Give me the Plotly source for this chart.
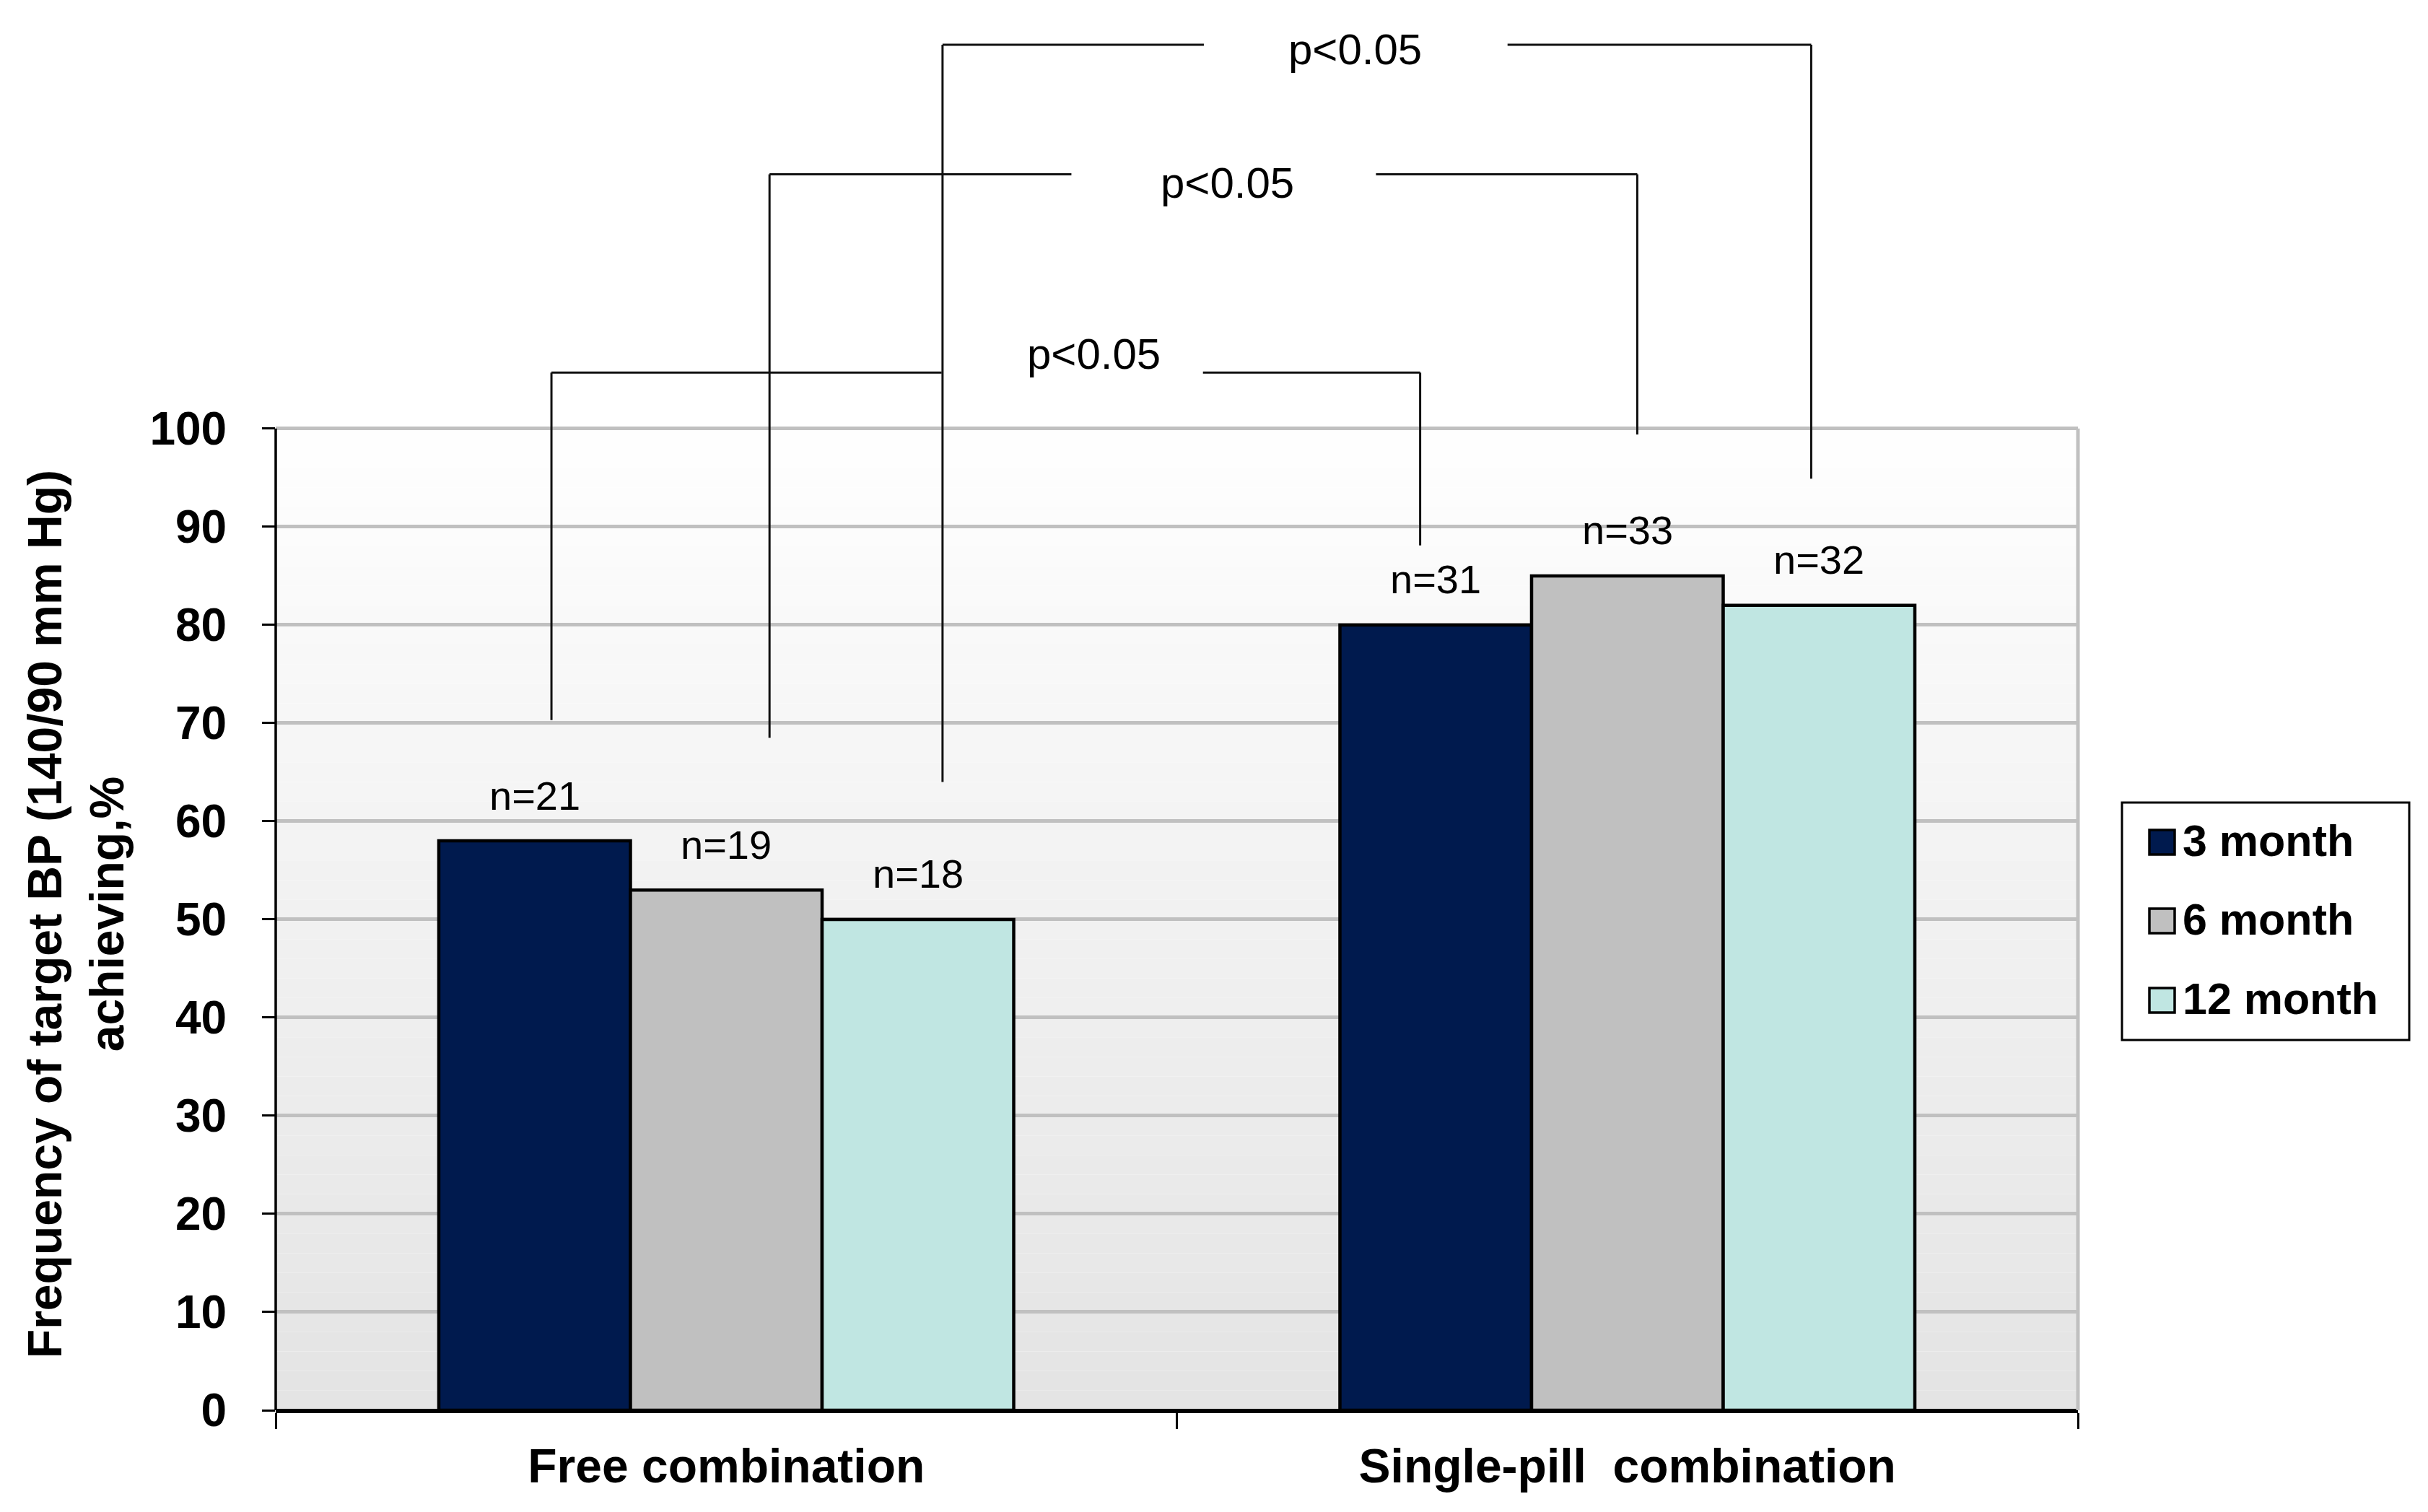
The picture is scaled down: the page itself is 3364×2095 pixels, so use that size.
import plotly.graph_objects as go

# data
categories = ['Free combination', 'Single-pill  combination']
periods = ['3 month', '6 month', '12 month']
values_3m = [58, 80]
values_6m = [53, 85]
values_12m = [50, 82]
n_3m = ['n=21', 'n=31']
n_6m = ['n=19', 'n=33']
n_12m = ['n=18', 'n=32']
y_ticks = [0, 10, 20, 30, 40, 50, 60, 70, 80, 90, 100]

colors = ['#001a4e', '#c0c0c0', '#c0e6e2']
font = 'Liberation Sans, Arial, sans-serif'

# brackets with the p-values (x in category units, y in %)
brackets = [
    dict(x_left=-0.194, x_right=0.770, y_top=105.7, y_left=70.3, y_right=88.1,
         gap=(0.239, 0.529), text_x=0.408, text_y=107.6),
    dict(x_left=0.048, x_right=1.011, y_top=125.9, y_left=68.5, y_right=99.4,
         gap=(0.383, 0.721), text_x=0.556, text_y=125.0),
    dict(x_left=0.240, x_right=1.204, y_top=139.1, y_left=64.0, y_right=94.9,
         gap=(0.530, 0.867), text_x=0.698, text_y=138.6),
]
p_text = 'p<0.05'

bargap = 0.362
bar_w = (1 - bargap) / 3

fig = go.Figure()
series = [values_3m, values_6m, values_12m]
labels = [n_3m, n_6m, n_12m]
for i, vals in enumerate(series):
    fig.add_trace(go.Bar(x=categories, y=vals, name=periods[i], showlegend=False,
                         marker=dict(color=colors[i], line=dict(color='black', width=4.5))))

shapes = []
# gradient background of the plot area
steps = 50
for k in range(steps):
    c = int(228 + (255 - 228) * (k + 0.5) / steps)
    shapes.append(dict(type='rect', xref='paper', yref='y', x0=0, x1=1,
                       y0=100 * k / steps, y1=100 * (k + 1) / steps,
                       fillcolor='rgb(%d,%d,%d)' % (c, c, c), line=dict(width=0), layer='below'))
# y axis line and right border
shapes.append(dict(type='line', xref='paper', yref='y', x0=0, x1=0, y0=0, y1=100,
                   line=dict(color='black', width=3.5)))
shapes.append(dict(type='line', xref='paper', yref='y', x0=1, x1=1, y0=0, y1=100,
                   line=dict(color='#c0c0c0', width=5)))

annotations = []
# n labels above bars
for i, vals in enumerate(series):
    for j, v in enumerate(vals):
        annotations.append(dict(x=j + (i - 1) * bar_w, y=v, xref='x', yref='y', text=labels[i][j],
                                showarrow=False, yanchor='middle', yshift=63,
                                font=dict(family=font, size=56, color='black')))

line_style = dict(color='#111111', width=3)
for b in brackets:
    segs = [
        (b['x_left'], b['y_left'], b['x_left'], b['y_top']),
        (b['x_left'], b['y_top'], b['gap'][0], b['y_top']),
        (b['gap'][1], b['y_top'], b['x_right'], b['y_top']),
        (b['x_right'], b['y_top'], b['x_right'], b['y_right']),
    ]
    for x0, y0, x1, y1 in segs:
        shapes.append(dict(type='line', xref='x', yref='y', x0=x0, y0=y0, x1=x1, y1=y1, line=line_style))
    annotations.append(dict(x=b['text_x'], y=b['text_y'], xref='x', yref='y', text=p_text,
                            showarrow=False, font=dict(family=font, size=60, color='black')))

# y axis title
annotations.append(dict(x=0, xref='paper', xshift=-277, y=50.5, yref='y', textangle=-90,
                        text='Frequency of target BP (140/90 mm Hg)<br>achieving,%',
                        showarrow=False, xanchor='center', yanchor='middle', align='center',
                        font=dict(family=font, size=66, color='black', weight='bold')))

# legend drawn by hand (positions in page pixels, turned into paper units)
plot_l, plot_w = 382, 2497
plot_b, plot_h = 1954, 1945


def px(xo):
    return (xo - plot_l) / plot_w


def py(yo):
    return (plot_b - yo) / plot_h


shapes.append(dict(type='rect', xref='paper', yref='paper', x0=px(2940), x1=px(3338),
                   y0=py(1441), y1=py(1112), line=dict(color='black', width=3), fillcolor='white'))
row_y = [1167, 1276, 1386]
for i, name in enumerate(periods):
    shapes.append(dict(type='rect', xref='paper', yref='paper', x0=px(2978), x1=px(3013),
                       y0=py(row_y[i] + 17), y1=py(row_y[i] - 17),
                       line=dict(color='black', width=3.5), fillcolor=colors[i]))
    annotations.append(dict(x=px(3022), y=py(row_y[i] - 2), xref='paper', yref='paper', text=name,
                            showarrow=False, xanchor='left', yanchor='middle',
                            font=dict(family=font, size=61, color='black', weight='bold')))

# the page body adds an 8px margin, so the figure is a bit smaller than the window
fig.update_layout(
    width=3348, height=2079,
    margin=dict(l=374, r=477, t=1, b=133),
    paper_bgcolor='white', plot_bgcolor='white',
    barmode='group', bargap=bargap, bargroupgap=0,
    shapes=shapes, annotations=annotations,
    showlegend=False,
    xaxis=dict(range=[-0.5, 1.5], tickson='boundaries', ticks='outside', ticklen=22, tickwidth=3,
               tickcolor='black', showline=True, linecolor='black', linewidth=4, showgrid=False,
               tickfont=dict(family=font, size=66, color='black', weight='bold'),
               ticklabelstandoff=17),
    yaxis=dict(range=[0, 143], tickvals=y_ticks, ticks='outside', ticklen=18, tickwidth=3,
               tickcolor='black', showline=False, showgrid=True, gridcolor='#c0c0c0', gridwidth=5,
               zeroline=True, zerolinecolor='black', zerolinewidth=4,
               tickfont=dict(family=font, size=64, color='black', weight='bold'),
               ticklabelstandoff=36),
)

fig.write_html("out.html")
